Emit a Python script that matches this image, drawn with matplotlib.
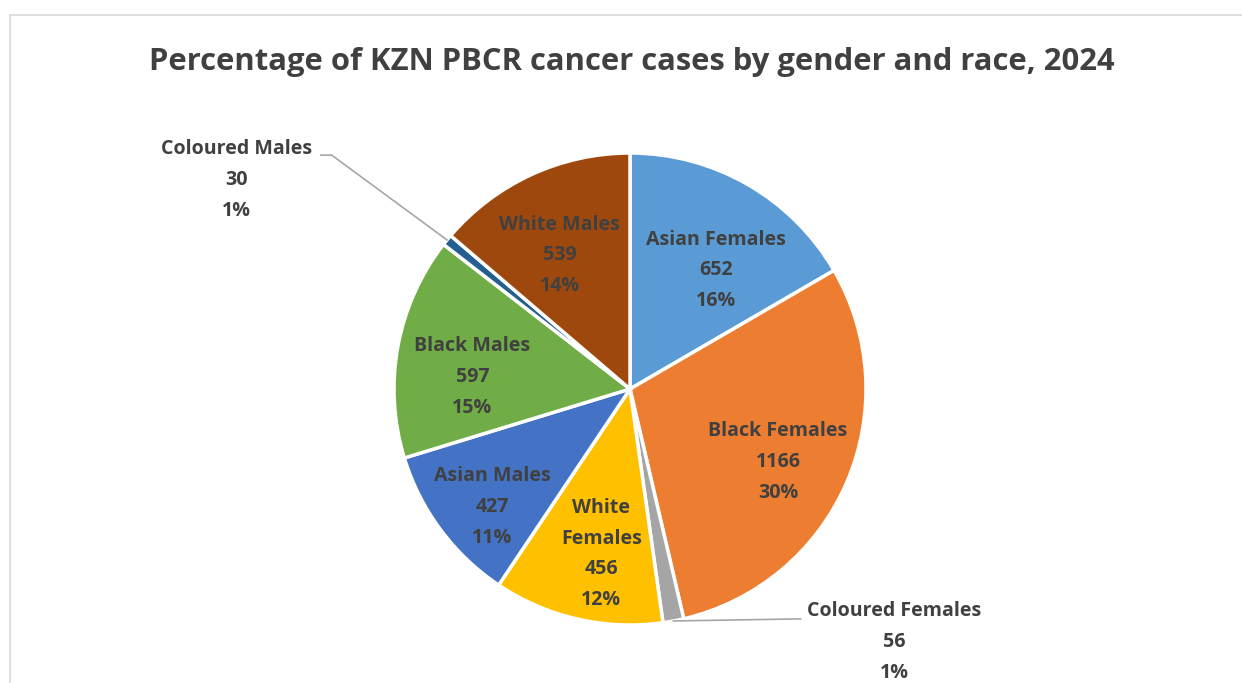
import numpy as np
import matplotlib
matplotlib.use("Agg")
import matplotlib.pyplot as plt
from matplotlib.patches import Rectangle

plt.rcParams['font.family'] = ['Open Sans', 'DejaVu Sans']

categories = ["Asian Females", "Black Females", "Coloured Females", "White Females",
              "Asian Males", "Black Males", "Coloured Males", "White Males"]
display_names = ["Asian Females", "Black Females", "Coloured Females", "White\nFemales",
                 "Asian Males", "Black Males", "Coloured Males", "White Males"]
counts = [652, 1166, 56, 456, 427, 597, 30, 539]
pct_labels = ["16%", "30%", "1%", "12%", "11%", "15%", "1%", "14%"]
colors = ["#5B9BD5", "#ED7D31", "#A5A5A5", "#FFC000",
          "#4472C4", "#70AD47", "#255E91", "#9E480E"]
title = "Percentage of KZN PBCR cancer cases by gender and race, 2024"

W, H = 1242, 683
fig = plt.figure(figsize=(W / 100, H / 100), dpi=100)
fig.patch.set_facecolor("white")
renderer = fig.canvas.get_renderer()


def fit_size(text, target_px, base=20):
    t = fig.text(0, 0, text, fontsize=base, fontweight="bold")
    w = t.get_window_extent(renderer).width
    t.remove()
    return base * target_px / w


title_fs = fit_size(title, 969)
label_fs = fit_size("Black Females", 139)

# chart border
fig.add_artist(Rectangle((10 / W, -0.05), 1.2, (H - 15) / H + 0.05, transform=fig.transFigure,
                         fill=False, edgecolor="#D9D9D9", linewidth=1.2))

cx, cy, R = 630, 389, 236
ax = fig.add_axes([(cx - R) / W, (H - cy - R) / H, 2 * R / W, 2 * R / H])

wedges, _ = ax.pie(counts, colors=colors, startangle=90, counterclock=False, radius=1,
                   wedgeprops=dict(edgecolor="white", linewidth=2.5))
ax.set_xlim(-1, 1)
ax.set_ylim(-1, 1)
ax.set_aspect("equal")
ax.axis("off")

txt_color = "#404040"
kw = dict(ha="center", va="center", fontsize=label_fs, fontweight="bold",
          color=txt_color, linespacing=1.72, clip_on=False)
# inside-label placement (radius fraction, angular nudge in degrees)
label_r = [0.62, 0.70, None, 0.71, 0.77, 0.67, None, 0.64]
label_dang = [6, 3, 0, -3, -4, -6, 0, -3]
total = sum(counts)
cum = 0
for i, c in enumerate(counts):
    mid = (cum + c / 2) / total * 2 * np.pi  # clockwise from top
    cum += c
    s = f"{display_names[i]}\n{c}\n{pct_labels[i]}"
    ex, ey = np.sin(mid), np.cos(mid)
    if label_r[i] is not None:
        r = label_r[i]
        a = mid + np.deg2rad(label_dang[i])
        ax.text(r * np.sin(a), r * np.cos(a), s, **kw)
    elif categories[i] == "Coloured Males":
        ax.plot([ex, -1.264, -1.31], [ey, 0.991, 0.991], color="#A6A6A6", lw=1.2, clip_on=False)
        ax.text(-1.668, 0.885, s, **kw)
    else:
        ax.plot([ex, 0.723], [ey, -0.974], color="#A6A6A6", lw=1.2, clip_on=False)
        ax.text(1.119, -1.072, s, **kw)

fig.text(632 / W, 1 - 62 / H, title, ha="center", va="center", fontsize=title_fs,
         fontweight="bold", color="#404040")

fig.savefig("out.png", dpi=100, facecolor="white")
